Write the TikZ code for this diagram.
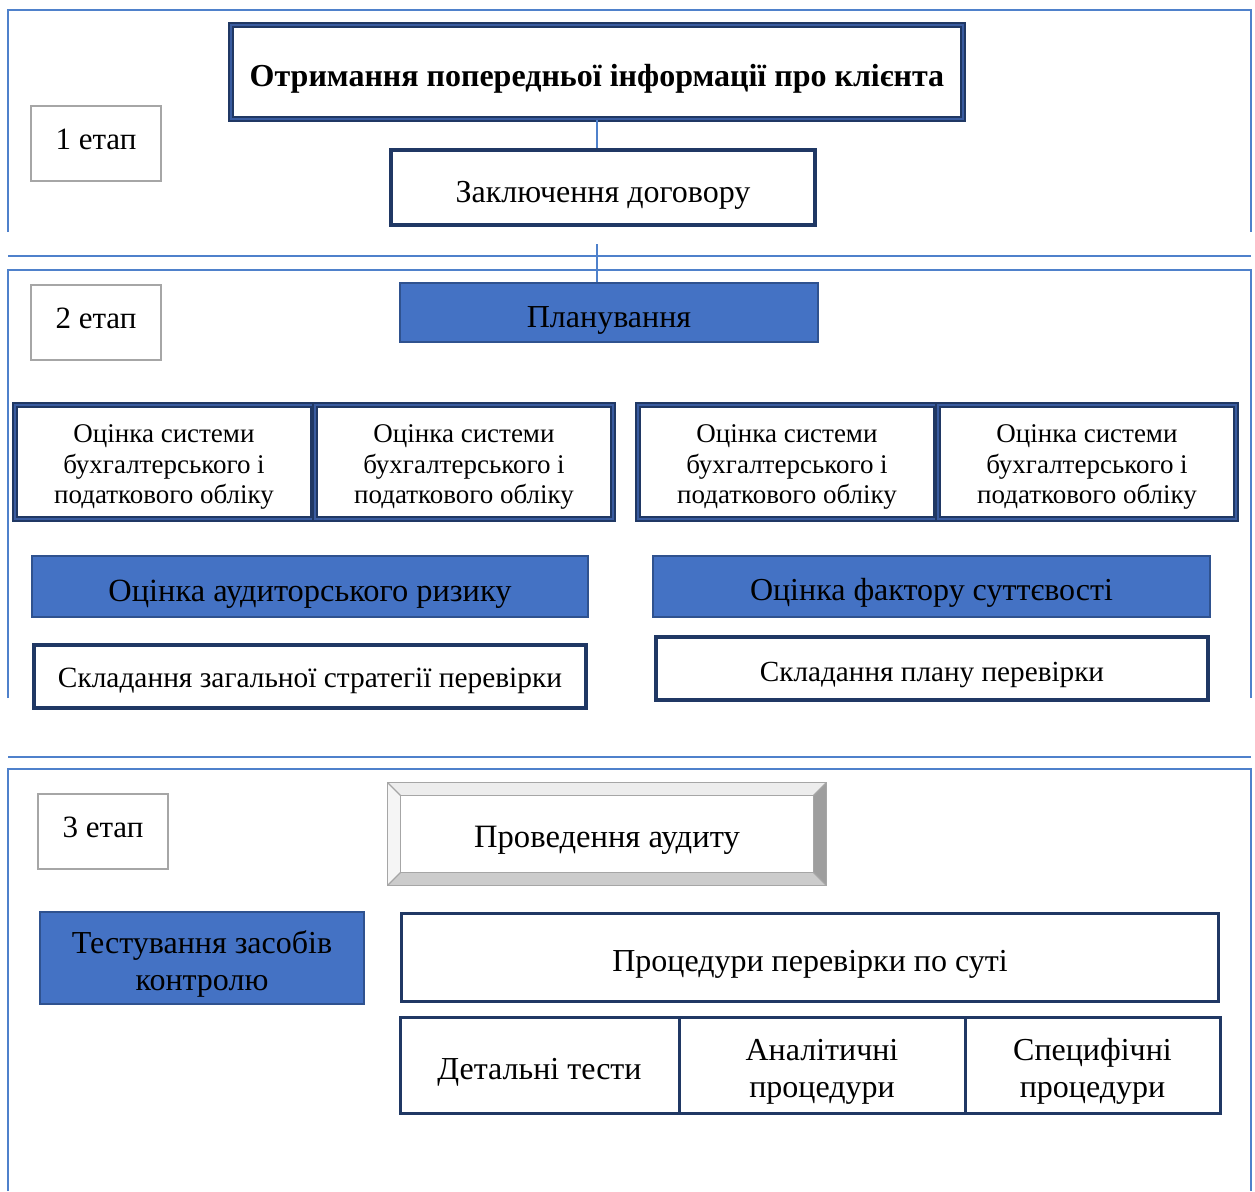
\documentclass[tikz,border=0pt]{standalone}
\usepackage{fontspec}
\setmainfont{Liberation Serif}
\usetikzlibrary{positioning}
\definecolor{navy}{RGB}{32,56,100}
\definecolor{midblue}{RGB}{58,92,160}
\definecolor{fillblue}{RGB}{68,114,196}
\definecolor{edgeblue}{RGB}{47,82,143}
\definecolor{framec}{RGB}{79,129,203}
\definecolor{stagegray}{RGB}{166,166,166}
% text block, moved down inside its box
\newcommand{\boxtext}[2][3.5pt]{\raisebox{-#1}[\height][\depth]{%
  \begin{tabular}{@{}c@{}}#2\end{tabular}}}
\begin{document}
\begin{tikzpicture}[x=0.5pt,y=-0.5pt,
    frame/.style={draw=framec,line width=0.75pt},
    conn/.style={draw=framec,line width=0.6pt},
    stagebox/.style={draw=stagegray,line width=1pt,minimum width=65pt,
      minimum height=37.5pt,font=\fontsize{15.5}{18}\selectfont},
    dblbox/.style={draw=navy,line width=1pt,double=midblue,
      double distance=0.8pt,fill=white},
    thickbox/.style={draw=navy,line width=2pt,fill=white},
    thinbox/.style={draw=navy,line width=1.5pt,fill=white,
      outer sep=0pt,font=\fontsize{16}{18.5}\selectfont},
    bluebox/.style={draw=edgeblue,line width=0.75pt,fill=fillblue},
    evalbox/.style={dblbox,minimum width=149pt,minimum height=57pt,
      font=\fontsize{13.5}{15.2}\selectfont}]

  \useasboundingbox (0,0) rectangle (1255,1191);

  % stage frames
  \draw[frame] (8,232) -- (8,10) -- (1251,10) -- (1251,232);
  \draw[frame] (8,256) -- (1251,256);
  \draw[frame] (8,698) -- (8,270) -- (1251,270) -- (1251,698);
  \draw[frame] (8,757) -- (1251,757);
  \draw[frame] (8,1191) -- (8,769) -- (1251,769) -- (1251,1191);

  % stage 1
  \node[stagebox] (stage1) at (96,143.5) {\boxtext[-0.8pt]{1 етап}};
  \node[dblbox,minimum width=366pt,minimum height=47pt,
        font=\fontsize{16}{19}\selectfont\bfseries] (info) at (597,72)
        {\boxtext{Отримання попередньої інформації про клієнта}};
  \node[thickbox,minimum width=212pt,minimum height=37.5pt,
        font=\fontsize{16}{19}\selectfont] (contract) at (603,187.5)
        {\boxtext{Заключення договору}};

  % stage 2
  \node[stagebox] (stage2) at (96,322.5) {\boxtext[-0.8pt]{2 етап}};
  \node[bluebox,minimum width=209pt,minimum height=29.5pt,
        font=\fontsize{16}{19}\selectfont] (plan) at (609,312.5)
        {\boxtext{Планування}};

  \node[evalbox] (eval1) at (164,462)
        {\boxtext[2.5pt]{Оцінка системи\\бухгалтерського і\\податкового обліку}};
  \node[evalbox] (eval2) [right=0pt of eval1]
        {\boxtext[2.5pt]{Оцінка системи\\бухгалтерського і\\податкового обліку}};
  \node[evalbox] (eval3) at (787,462)
        {\boxtext[2.5pt]{Оцінка системи\\бухгалтерського і\\податкового обліку}};
  \node[evalbox] (eval4) [right=0pt of eval3]
        {\boxtext[2.5pt]{Оцінка системи\\бухгалтерського і\\податкового обліку}};

  \node[bluebox,minimum width=278pt,minimum height=30.5pt,
        font=\fontsize{16.2}{19}\selectfont] (risk) at (310,586.5)
        {\boxtext{Оцінка аудиторського ризику}};
  \node[thickbox,minimum width=276pt,minimum height=31.5pt,
        font=\fontsize{14.7}{17}\selectfont] (strategy) at (310,676.5)
        {\boxtext[2pt]{Складання загальної стратегії перевірки}};
  \node[bluebox,minimum width=278.5pt,minimum height=30.5pt,
        font=\fontsize{16}{19}\selectfont] (material) at (931.5,586.5)
        {\boxtext[3pt]{Оцінка фактору суттєвості}};
  \node[thickbox,minimum width=276pt,minimum height=31.5pt,
        font=\fontsize{14.6}{17}\selectfont] (auditplan) at (932,668.5)
        {\boxtext[3pt]{Складання плану перевірки}};

  % stage 3
  \node[stagebox] (stage3) at (103,831.5) {\boxtext[-0.8pt]{3 етап}};
  \node[minimum width=219pt,minimum height=51pt,
        font=\fontsize{16.3}{19}\selectfont] (conduct) at (607,834)
        {\boxtext[3pt]{Проведення аудиту}};
  \fill[black!7] (conduct.north west) -- (conduct.north east)
        -- ([shift={(-13,13)}]conduct.north east)
        -- ([shift={(13,13)}]conduct.north west) -- cycle;
  \fill[black!4] (conduct.north west) -- ([shift={(13,13)}]conduct.north west)
        -- ([shift={(13,-13)}]conduct.south west) -- (conduct.south west) -- cycle;
  \fill[black!38] (conduct.north east) -- (conduct.south east)
        -- ([shift={(-13,-13)}]conduct.south east)
        -- ([shift={(-13,13)}]conduct.north east) -- cycle;
  \fill[black!20] (conduct.south west) -- (conduct.south east)
        -- ([shift={(-13,-13)}]conduct.south east)
        -- ([shift={(13,-13)}]conduct.south west) -- cycle;
  \draw[stagegray,line width=0.8pt] (conduct.north west) rectangle (conduct.south east);
  \draw[stagegray,line width=0.8pt] ([shift={(13,13)}]conduct.north west)
        rectangle ([shift={(-13,-13)}]conduct.south east);
  \draw[stagegray,line width=0.6pt]
        (conduct.north west) -- ([shift={(13,13)}]conduct.north west)
        (conduct.north east) -- ([shift={(-13,13)}]conduct.north east)
        (conduct.south west) -- ([shift={(13,-13)}]conduct.south west)
        (conduct.south east) -- ([shift={(-13,-13)}]conduct.south east);

  \node[bluebox,minimum width=162pt,minimum height=46pt,
        font=\fontsize{16}{18.5}\selectfont] (tests) at (202,958)
        {\boxtext{Тестування засобів\\контролю}};
  \node[thinbox,minimum width=408.5pt,minimum height=44pt] (substance)
        at (810,957.5) {\boxtext{Процедури перевірки по суті}};
  \node[thinbox,minimum width=139.5pt,minimum height=48pt] (detail)
        at (539.5,1065) {\boxtext{Детальні тести}};
  \node[thinbox,minimum width=143pt,minimum height=48pt] (analyt)
        [right=0pt of detail] {\boxtext{Аналітичні\\процедури}};
  \node[thinbox,minimum width=127.5pt,minimum height=48pt] (specific)
        [right=0pt of analyt] {\boxtext{Специфічні\\процедури}};

  % connectors
  \draw[conn] (info.south) -- (info.south |- contract.north);
  \draw[conn,shorten <=8.5pt] (info.south |- contract.south)
        -- (info.south |- plan.north);
\end{tikzpicture}
\end{document}
